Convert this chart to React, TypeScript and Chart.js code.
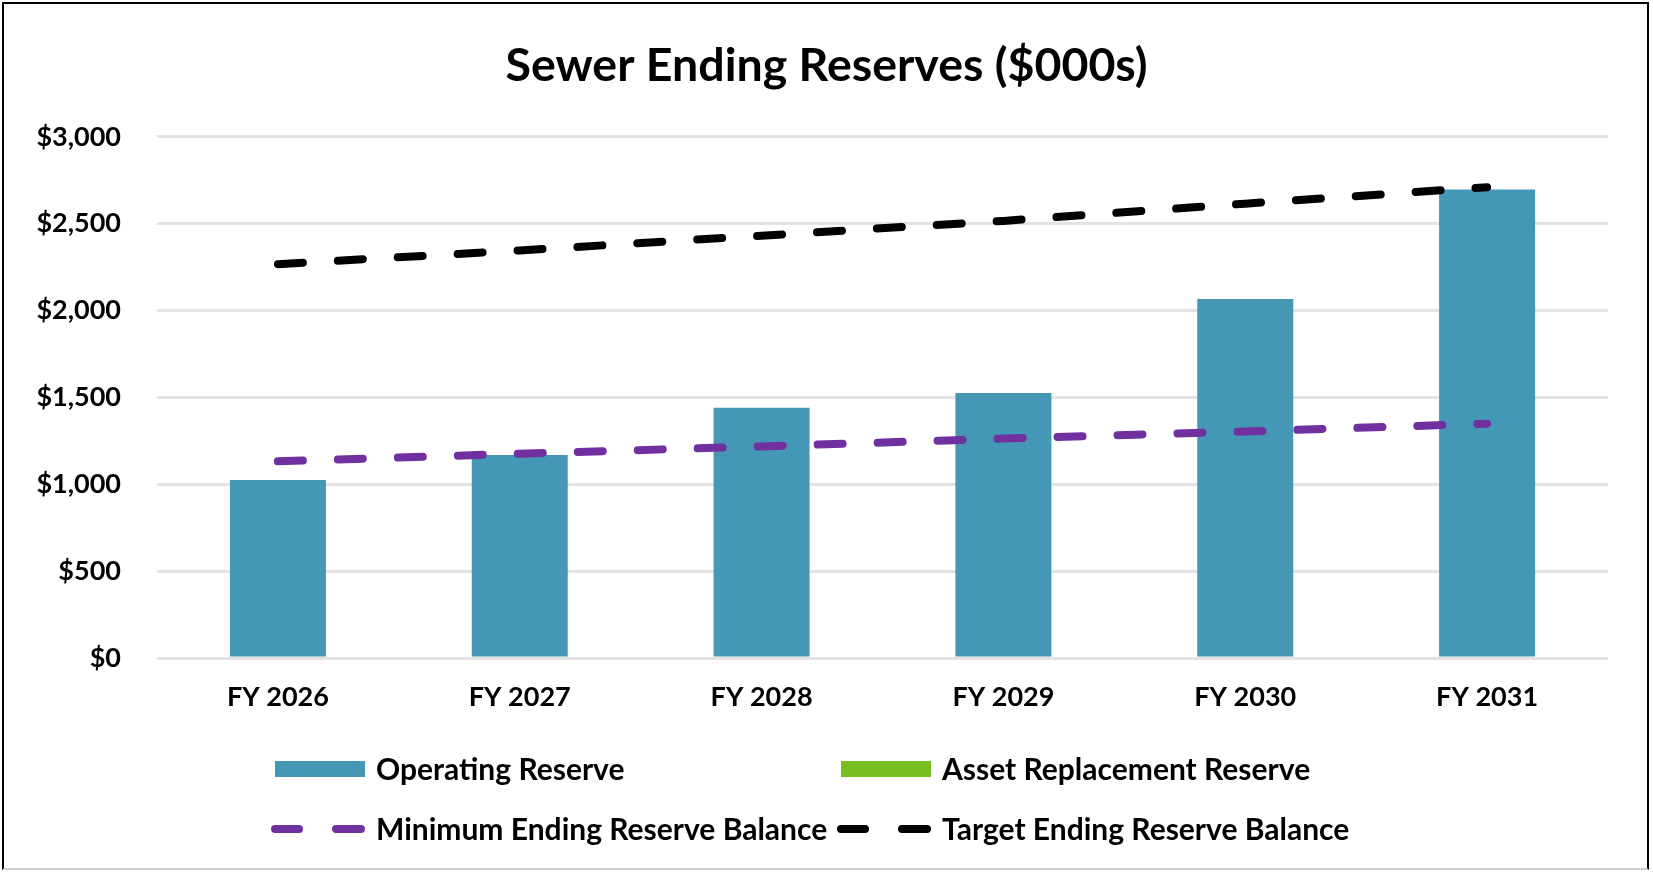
import React, { useEffect, useRef } from 'react';
import { Chart, registerables } from 'chart.js';

Chart.register(...registerables);

const chartTitle = 'Sewer Ending Reserves ($000s)';
const categories = ['FY 2026', 'FY 2027', 'FY 2028', 'FY 2029', 'FY 2030', 'FY 2031'];
const operatingReserve = [1025, 1168, 1441, 1526, 2067, 2696];
const assetReplacementReserve = [0, 0, 0, 0, 0, 0];
const minimumBalance = [1132, 1176, 1218, 1263, 1304, 1349];
const targetBalance = [2267, 2346, 2431, 2516, 2615, 2710];
const yTickValues = [0, 500, 1000, 1500, 2000, 2500, 3000];

const FONT = "Lato, 'Noto Sans', 'DejaVu Sans', sans-serif";
const BAR_BLUE = '#4498B6';
const GREEN = '#78BE20';
const PURPLE = '#7030A0';

const legendPlugin = {
  id: 'customLegend',
  afterDraw(chart: any) {
    const ctx = chart.ctx as CanvasRenderingContext2D;
    const ds = chart.data.datasets;
    const colX = [275, 841];
    const rowY = [769, 829];
    const layout = [
      { i: 0, c: 0, r: 0 },
      { i: 1, c: 1, r: 0 },
      { i: 2, c: 0, r: 1 },
      { i: 3, c: 1, r: 1 },
    ];
    ctx.save();
    ctx.font = `bold 30px ${FONT}`;
    ctx.textBaseline = 'middle';
    ctx.textAlign = 'left';
    layout.forEach(({ i, c, r }) => {
      const d = ds[i];
      const x = colX[c];
      const y = rowY[r];
      if (d.type === 'line') {
        ctx.strokeStyle = d.borderColor;
        ctx.lineWidth = 8;
        ctx.lineCap = 'round';
        ctx.setLineDash([]);
        ctx.beginPath();
        ctx.moveTo(x, y);
        ctx.lineTo(x + 24, y);
        ctx.moveTo(x + 61, y);
        ctx.lineTo(x + 86, y);
        ctx.stroke();
      } else {
        ctx.fillStyle = d.backgroundColor;
        ctx.fillRect(x, y - 8, 90, 16);
      }
      ctx.fillStyle = '#000';
      ctx.fillText(d.label, x + 101, y + 1);
    });
    ctx.restore();
  },
};

export default function App() {
  const canvasRef = useRef<HTMLCanvasElement | null>(null);

  useEffect(() => {
    if (!canvasRef.current) return;
    const chart = new Chart(canvasRef.current, {
      type: 'bar',
      data: {
        labels: categories,
        datasets: [
          {
            type: 'bar',
            label: 'Operating Reserve',
            data: operatingReserve,
            backgroundColor: BAR_BLUE,
            borderWidth: 0,
            stack: 'reserves',
            order: 2,
          },
          {
            type: 'bar',
            label: 'Asset Replacement Reserve',
            data: assetReplacementReserve,
            backgroundColor: GREEN,
            borderWidth: 0,
            stack: 'reserves',
            order: 2,
          },
          {
            type: 'line',
            label: 'Minimum Ending Reserve Balance',
            data: minimumBalance,
            borderColor: PURPLE,
            backgroundColor: PURPLE,
            borderWidth: 8,
            borderDash: [25, 35],
            borderCapStyle: 'round',
            borderJoinStyle: 'round',
            pointRadius: 0,
            fill: false,
            tension: 0,
            stack: 'min',
            order: 1,
          },
          {
            type: 'line',
            label: 'Target Ending Reserve Balance',
            data: targetBalance,
            borderColor: '#000000',
            backgroundColor: '#000000',
            borderWidth: 8,
            borderDash: [25, 35],
            borderCapStyle: 'round',
            borderJoinStyle: 'round',
            pointRadius: 0,
            fill: false,
            tension: 0,
            stack: 'target',
            order: 1,
          },
        ] as any,
      },
      options: {
        animation: false,
        responsive: false,
        maintainAspectRatio: false,
        devicePixelRatio: 1,
        events: [],
        layout: { padding: { top: 0, left: 0, right: 0, bottom: 0 } },
        datasets: {
          bar: { categoryPercentage: 1, barPercentage: 0.397 },
        },
        plugins: {
          legend: { display: false },
          tooltip: { enabled: false },
          title: {
            display: true,
            text: chartTitle,
            color: '#000',
            font: { family: FONT, size: 46.5, weight: 'bold', lineHeight: 1.2 },
            padding: { top: 38, bottom: 43 },
          },
        },
        scales: {
          x: {
            stacked: true,
            grid: { display: false, drawTicks: false },
            border: { display: false },
            ticks: {
              color: '#000',
              font: { family: FONT, size: 27, weight: 'bold' },
              padding: 23,
              maxRotation: 0,
            },
            afterFit: (s: any) => {
              s.height = 215;
            },
          },
          y: {
            stacked: true,
            min: 0,
            max: 3000,
            afterBuildTicks: (s: any) => {
              s.ticks = yTickValues.map((v) => ({ value: v }));
            },
            ticks: {
              color: '#000',
              font: { family: FONT, size: 27, weight: 'bold' },
              padding: 36,
              callback: (v: any) => '$' + Number(v).toLocaleString('en-US'),
            },
            grid: { color: '#E3E3E3', lineWidth: 3, drawTicks: false },
            border: { display: false },
            afterFit: (s: any) => {
              s.width = 157;
            },
          },
          yRightSpace: {
            position: 'right',
            display: true,
            grid: { display: false, drawTicks: false },
            ticks: { display: false },
            border: { display: false },
            afterFit: (s: any) => {
              s.width = 45;
            },
          },
        },
      } as any,
      plugins: [legendPlugin],
    });
    return () => chart.destroy();
  }, []);

  return (
    <div
      style={{
        position: 'fixed',
        left: 0,
        top: 0,
        width: 1653,
        height: 873,
        background: '#fff',
        overflow: 'hidden',
      }}
    >
      <canvas ref={canvasRef} width={1653} height={873} style={{ display: 'block' }} />
      <div
        style={{
          position: 'absolute',
          left: 2,
          top: 2,
          width: 1647,
          height: 868,
          boxSizing: 'border-box',
          borderTop: '2px solid #000',
          borderLeft: '2px solid #000',
          borderRight: '2px solid #000',
          borderBottom: '2px solid #d0d0d0',
          pointerEvents: 'none',
        }}
      />
    </div>
  );
}
